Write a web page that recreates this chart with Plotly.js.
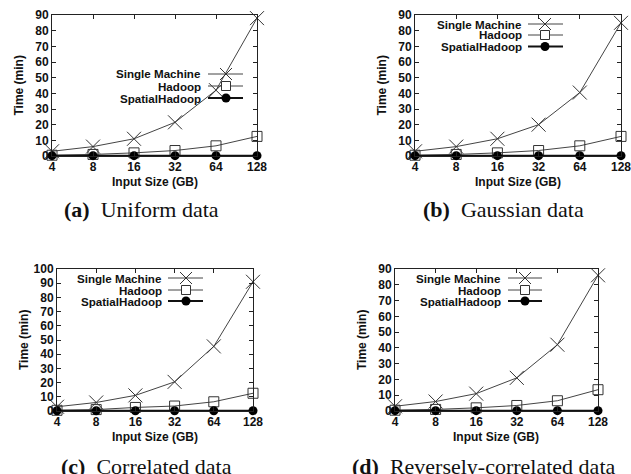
<!DOCTYPE html>
<html>
<head>
<meta charset="utf-8">
<script src="https://cdn.plot.ly/plotly-3.0.1.min.js"></script>
<style>html,body{margin:0;padding:0;background:#fff;}#chart{width:631px;height:474px;}</style>
</head>
<body>
<div id="chart"></div>
<script>
// ---- data ----
const inputSizeLabels = ['4', '8', '16', '32', '64', '128'];
const seriesNames = ['Single Machine', 'Hadoop', 'SpatialHadoop'];

const uniformSingle  = [3, 6, 11, 21.5, 42, 88];
const uniformHadoop  = [0.5, 1, 2, 3.5, 6.5, 12.5];
const uniformSpatial = [0.2, 0.2, 0.2, 0.2, 0.2, 0.2];

const gaussianSingle  = [3, 6, 11, 20, 40.5, 85];
const gaussianHadoop  = [0.5, 1, 2, 3.5, 6.5, 12.5];
const gaussianSpatial = [0.2, 0.2, 0.2, 0.2, 0.2, 0.2];

const correlatedSingle  = [3, 6, 11, 20.5, 45.5, 91];
const correlatedHadoop  = [0.5, 1, 2.5, 3.5, 6.5, 12.5];
const correlatedSpatial = [0.2, 0.2, 0.2, 0.2, 0.2, 0.2];

const reverseSingle  = [3, 6, 11, 21, 42, 86];
const reverseHadoop  = [0.5, 1, 2, 3.5, 6.5, 13.5];
const reverseSpatial = [0.2, 0.2, 0.2, 0.2, 0.2, 0.2];

const captionLetters = ['(a)', '(b)', '(c)', '(d)'];
const captionTexts = ['Uniform data', 'Gaussian data', 'Correlated data', 'Reversely-correlated data'];
const yAxisMax = [90, 90, 100, 90];

// ---- layout geometry (pixels) ----
const W = 631, H = 474;
const px = v => v / W;
const py = v => 1 - v / H;

const panels = [
  {box: [52, 257, 15, 156], data: [uniformSingle, uniformHadoop, uniformSpatial],
   leg: {right: 203, l0: 208, l1: 243, m: 226, rows: [74, 86, 98]}, cap: [141, 209]},
  {box: [415, 621, 15, 156], data: [gaussianSingle, gaussianHadoop, gaussianSpatial],
   leg: {right: 524, l0: 528, l1: 563, m: 545, rows: [24, 35, 46.5]}, cap: [503, 210]},
  {box: [57, 253, 269, 411], data: [correlatedSingle, correlatedHadoop, correlatedSpatial],
   leg: {right: 164, l0: 168, l1: 203, m: 186, rows: [278, 290, 301]}, cap: [146, 466]},
  {box: [395, 598, 269, 411], data: [reverseSingle, reverseHadoop, reverseSpatial],
   leg: {right: 503, l0: 508, l1: 542, m: 525, rows: [278, 290, 301]}, cap: [483, 466]}
];

const tickFont = {family: 'Liberation Sans, Arial, sans-serif', size: 12, color: '#111', weight: 'bold'};
const legFont = {family: 'Liberation Sans, Arial, sans-serif', size: 11.6, color: '#111', weight: 'bold'};
const lineGray = '#444';

const styles = [
  {marker: {symbol: 'x-thin-open', size: 14, color: '#333', line: {width: 1, color: '#333'}}, line: {color: lineGray, width: 1}},
  {marker: {symbol: 'square-open', size: 10, color: '#333', line: {width: 1, color: '#333'}}, line: {color: lineGray, width: 1}},
  {marker: {symbol: 'circle', size: 9, color: '#000', line: {width: 0}}, line: {color: '#111', width: 1.8}}
];

const traces = [];
const layout = {
  width: W, height: H,
  margin: {l: 0, r: 0, t: 0, b: 0},
  paper_bgcolor: '#fff', plot_bgcolor: '#fff',
  showlegend: false,
  annotations: [], shapes: []
};

panels.forEach((p, i) => {
  const n = i + 1;
  const xa = 'xaxis' + (n === 1 ? '' : n), ya = 'yaxis' + (n === 1 ? '' : n);
  const xr = 'x' + (n === 1 ? '' : n), yr = 'y' + (n === 1 ? '' : n);
  const [x0, x1, y0, y1] = p.box;
  layout[xa] = {
    domain: [px(x0), px(x1)], anchor: yr, type: 'category',
    categoryorder: 'array', categoryarray: inputSizeLabels,
    range: [0, inputSizeLabels.length - 1],
    ticks: 'inside', ticklen: 4, tickcolor: '#222', mirror: 'ticks',
    showline: true, linecolor: '#222', linewidth: 1, showgrid: false, zeroline: false,
    tickfont: tickFont, fixedrange: true
  };
  layout[ya] = {
    domain: [py(y1), py(y0)], anchor: xr,
    range: [0, yAxisMax[i]], dtick: 10, tick0: 0,
    ticks: 'inside', ticklen: 4, tickcolor: '#222', mirror: 'ticks',
    showline: true, linecolor: '#222', linewidth: 1, showgrid: false, zeroline: false,
    tickfont: tickFont, fixedrange: true
  };
  p.data.forEach((vals, s) => {
    traces.push({
      type: 'scatter', mode: 'lines+markers', name: seriesNames[s],
      x: inputSizeLabels, y: vals, xaxis: xr, yaxis: yr, cliponaxis: false,
      marker: styles[s].marker, line: styles[s].line
    });
  });
  // axis titles
  layout.annotations.push({
    xref: 'paper', yref: 'paper', x: px((x0 + x1) / 2), y: py(y1 + 26),
    xanchor: 'center', yanchor: 'middle', showarrow: false,
    text: 'Input Size (GB)', font: tickFont
  });
  layout.annotations.push({
    xref: 'paper', yref: 'paper', x: px(x0 - 33), y: py((y0 + y1) / 2),
    xanchor: 'center', yanchor: 'middle', showarrow: false, textangle: -90,
    text: 'Time (min)', font: tickFont
  });
  // caption
  layout.annotations.push({
    xref: 'paper', yref: 'paper', x: px(p.cap[0]), y: py(p.cap[1]),
    xanchor: 'center', yanchor: 'middle', showarrow: false,
    text: '<b>' + captionLetters[i] + '</b>\u2002' + captionTexts[i],
    font: {family: 'Liberation Serif, Times New Roman, serif', size: 22, color: '#111'}
  });
  // legend (gnuplot style: text right-aligned, sample to the right)
  const L = p.leg;
  L.rows.forEach((ry, s) => {
    layout.annotations.push({
      xref: 'paper', yref: 'paper', x: px(L.right), y: py(ry),
      xanchor: 'right', yanchor: 'middle', showarrow: false,
      text: seriesNames[s], font: legFont
    });
    layout.shapes.push({type: 'line', xref: 'paper', yref: 'paper',
      x0: px(L.l0), x1: px(L.l1), y0: py(ry), y1: py(ry),
      line: {color: s === 2 ? '#111' : lineGray, width: s === 2 ? 1.8 : 1}});
    if (s === 0) {
      const r = 6;
      layout.shapes.push({type: 'line', xref: 'paper', yref: 'paper',
        x0: px(L.m - r), x1: px(L.m + r), y0: py(ry - r), y1: py(ry + r), line: {color: '#333', width: 1}});
      layout.shapes.push({type: 'line', xref: 'paper', yref: 'paper',
        x0: px(L.m - r), x1: px(L.m + r), y0: py(ry + r), y1: py(ry - r), line: {color: '#333', width: 1}});
    } else if (s === 1) {
      const r = 4.5;
      layout.shapes.push({type: 'rect', xref: 'paper', yref: 'paper',
        x0: px(L.m - r), x1: px(L.m + r), y0: py(ry + r), y1: py(ry - r),
        fillcolor: '#fff', line: {color: '#333', width: 1}});
    } else {
      const r = 4.5;
      layout.shapes.push({type: 'circle', xref: 'paper', yref: 'paper',
        x0: px(L.m - r), x1: px(L.m + r), y0: py(ry + r), y1: py(ry - r),
        fillcolor: '#000', line: {color: '#000', width: 0}});
    }
  });
});

Plotly.newPlot('chart', traces, layout, {displayModeBar: false, staticPlot: true});
</script>
</body>
</html>
